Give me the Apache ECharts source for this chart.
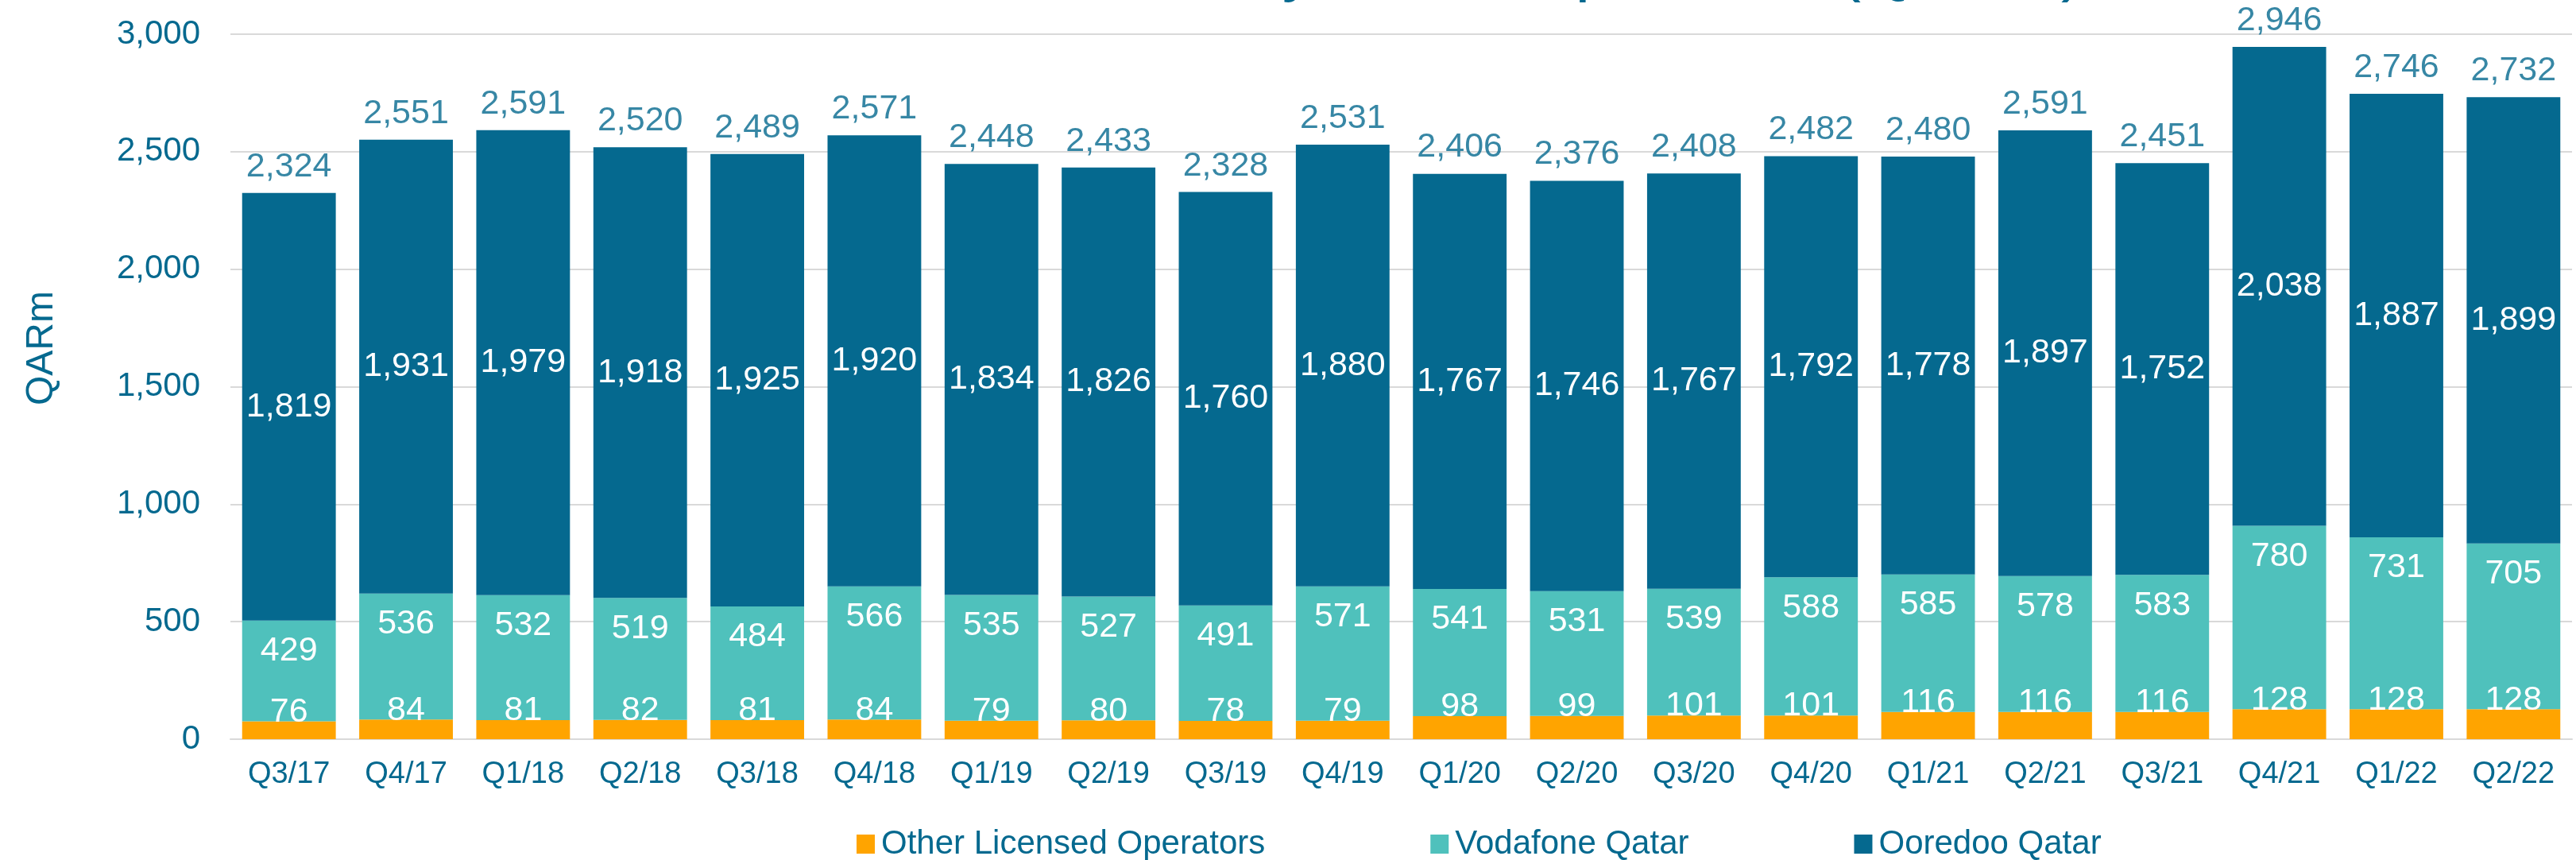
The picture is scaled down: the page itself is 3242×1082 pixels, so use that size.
<!DOCTYPE html>
<html>
<head>
<meta charset="utf-8">
<title>Mobile revenue by operator</title>
<script src="https://cdn.jsdelivr.net/npm/echarts@6/dist/echarts.min.js"></script>
<style>
  html, body { margin: 0; padding: 0; background: #fff; }
  #chart { width: 3242px; height: 1082px; }
</style>
</head>
<body>
<div id="chart"></div>
<script>
const quarters = ['Q3/17', 'Q4/17', 'Q1/18', 'Q2/18', 'Q3/18', 'Q4/18', 'Q1/19', 'Q2/19', 'Q3/19', 'Q4/19',
  'Q1/20', 'Q2/20', 'Q3/20', 'Q4/20', 'Q1/21', 'Q2/21', 'Q3/21', 'Q4/21', 'Q1/22', 'Q2/22']
const otherOperators = [76, 84, 81, 82, 81, 84, 79, 80, 78, 79, 98, 99, 101, 101, 116, 116, 116, 128, 128, 128]
const vodafone = [429, 536, 532, 519, 484, 566, 535, 527, 491, 571, 541, 531, 539, 588, 585, 578, 583, 780, 731, 705]
const ooredoo = [1819, 1931, 1979, 1918, 1925, 1920, 1834, 1826, 1760, 1880, 1767, 1746, 1767, 1792, 1778, 1897, 1752, 2038, 1887, 1899]
const totals = [2324, 2551, 2591, 2520, 2489, 2571, 2448, 2433, 2328, 2531, 2406, 2376, 2408, 2482, 2480, 2591, 2451, 2946, 2746, 2732]

const BLUE = '#05698f'
const TEAL = '#4fc1bc'
const ORANGE = '#ffa400'
const FONT = '"Liberation Sans", Arial, sans-serif'

const fmt = (v) => Number(v).toLocaleString('en-US')

const chart = echarts.init(document.getElementById('chart'))

const option = {
  backgroundColor: '#fff',
  animation: false,
  textStyle: { fontFamily: FONT },
  grid: { left: 290, right: 5, top: 43, bottom: 152 },
  graphic: [
    {
      type: 'text',
      x: 53,
      y: 438,
      rotation: Math.PI / 2,
      style: { text: 'QARm', fill: BLUE, font: '48px ' + FONT, align: 'center', verticalAlign: 'middle' }
    },
    {
      // title sits mostly above the visible area
      type: 'text',
      x: 2622,
      y: -37,
      style: {
        text: 'Mobile Revenue by Retail Operators (QARm)',
        fill: BLUE,
        font: '84px ' + FONT,
        align: 'right',
        verticalAlign: 'middle'
      }
    }
  ],
  legend: {
    data: ['Other Licensed Operators', 'Vodafone Qatar', 'Ooredoo Qatar'],
    left: 1073,
    top: 1036,
    icon: 'rect',
    itemWidth: 23,
    itemHeight: 24,
    itemGap: 208,
    textStyle: { color: BLUE, fontSize: 42, fontFamily: FONT, padding: [0, 0, 0, 3] }
  },
  xAxis: {
    type: 'category',
    data: quarters,
    axisTick: { show: false },
    axisLine: { lineStyle: { color: '#d9d9d9', width: 2 } },
    axisLabel: { color: BLUE, fontSize: 38, margin: 26, interval: 0 }
  },
  yAxis: {
    type: 'value',
    min: 0,
    max: 3000,
    interval: 500,
    axisLine: { show: false },
    axisTick: { show: false },
    axisLabel: { color: BLUE, fontSize: 42, margin: 38, formatter: fmt },
    splitLine: { lineStyle: { color: '#d9d9d9', width: 2 } }
  },
  series: [
    {
      name: 'Other Licensed Operators',
      type: 'bar',
      stack: 'rev',
      barCategoryGap: '20%',
      data: otherOperators,
      itemStyle: { color: ORANGE },
      label: { show: true, position: 'top', distance: -10, color: '#fff', fontSize: 43 }
    },
    {
      name: 'Vodafone Qatar',
      type: 'bar',
      stack: 'rev',
      data: vodafone,
      itemStyle: { color: TEAL },
      label: { show: true, position: 'insideTop', distance: 17, color: '#fff', fontSize: 43 }
    },
    {
      name: 'Ooredoo Qatar',
      type: 'bar',
      stack: 'rev',
      data: ooredoo,
      itemStyle: { color: BLUE },
      label: { show: true, position: 'inside', color: '#fff', fontSize: 43, formatter: (p) => fmt(p.value) }
    },
    {
      name: 'Total',
      type: 'scatter',
      data: totals,
      symbolSize: 1,
      itemStyle: { color: 'rgba(0,0,0,0)' },
      silent: true,
      z: 5,
      label: { show: true, position: 'top', distance: 11, color: BLUE, fontSize: 43, formatter: (p) => fmt(p.value) }
    }
  ]
}

chart.setOption(option)
</script>
</body>
</html>
